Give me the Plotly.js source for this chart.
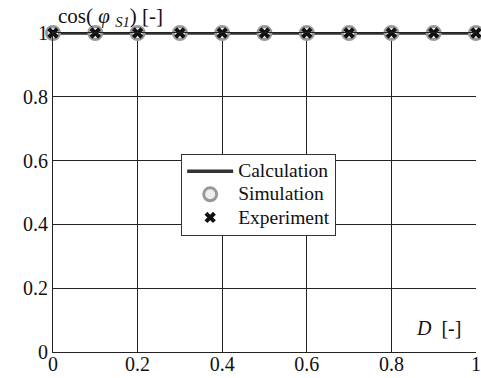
<!DOCTYPE html>
<html>
<head>
<meta charset="utf-8">
<script src="https://cdn.plot.ly/plotly-3.0.1.min.js"></script>
<style>html,body{margin:0;padding:0;background:#fff;}</style>
</head>
<body>
<div id="chart" style="width:481px;height:378px;"></div>
<script>
const calcD = [0, 0.1, 0.2, 0.3, 0.4, 0.5, 0.6, 0.7, 0.8, 0.9, 1.0];
const calcCos = [1, 1, 1, 1, 1, 1, 1, 1, 1, 1, 1];
const simD = [0, 0.1, 0.2, 0.3, 0.4, 0.5, 0.6, 0.7, 0.8, 0.9, 1.0];
const simCos = [1, 1, 1, 1, 1, 1, 1, 1, 1, 1, 1];
const expD = [0, 0.1, 0.2, 0.3, 0.4, 0.5, 0.6, 0.7, 0.8, 0.9, 1.0];
const expCos = [1, 1, 1, 1, 1, 1, 1, 1, 1, 1, 1];
const tickVals = [0, 0.2, 0.4, 0.6, 0.8, 1];
const tickText = ['0', '0.2', '0.4', '0.6', '0.8', '1'];
const seriesNames = ['Calculation', 'Simulation', 'Experiment'];

const fam = 'Liberation Serif, Times New Roman, serif';
const font = {family: fam, size: 20, color: '#111'};
const legFont = {family: fam, size: 15.5, color: '#111'};
const big = s => '<span style="font-size:19.5px">' + s + '</span>';

const traces = [
  {x: calcD, y: calcCos, name: big(seriesNames[0]), mode: 'lines',
   line: {color: '#333', width: 3.5}, cliponaxis: false},
  {x: simD, y: simCos, name: big(seriesNames[1]), mode: 'markers',
   marker: {symbol: 'circle', size: 13, color: '#eee', line: {color: '#999', width: 3}}, cliponaxis: false},
  {x: expD, y: expCos, name: big(seriesNames[2]), mode: 'markers',
   marker: {symbol: 'x', size: 10, color: '#111', line: {width: 0}}, cliponaxis: false}
];

const layout = {
  width: 481, height: 378,
  margin: {l: 53, r: 5, t: 33, b: 26},
  paper_bgcolor: '#fff', plot_bgcolor: '#fff',
  font: font,
  showlegend: true,
  legend: {x: 0.303, y: 0.622, xanchor: 'left', yanchor: 'top',
    bgcolor: '#fff', bordercolor: '#333', borderwidth: 1,
    font: legFont, tracegroupgap: 0, itemwidth: 46},
  xaxis: {range: [0, 1], tickvals: tickVals, ticktext: tickText,
    showgrid: true, gridcolor: '#222', gridwidth: 1,
    showline: true, linecolor: '#222', linewidth: 1, mirror: true,
    zeroline: false, ticks: '', ticklen: 0, tickfont: font, fixedrange: true,
    ticklabelstandoff: -6},
  yaxis: {range: [0, 1], tickvals: tickVals, ticktext: tickText,
    showgrid: true, gridcolor: '#222', gridwidth: 1,
    showline: true, linecolor: '#222', linewidth: 1,
    zeroline: false, ticks: '', ticklen: 0, tickfont: font, fixedrange: true},
  annotations: [
    {xref: 'paper', yref: 'paper', x: 0.008, y: 1.0, xanchor: 'left', yanchor: 'bottom',
     text: 'cos( <i>φ</i> <sub><i>S1</i></sub>) [-]', showarrow: false,
     font: {family: fam, size: 21, color: '#111'}, yshift: 1},
    {xref: 'paper', yref: 'paper', x: 0.969, y: 0.035, xanchor: 'right', yanchor: 'bottom',
     text: '<i>D</i>  [-]', showarrow: false, font: font}
  ]
};

Plotly.newPlot('chart', traces, layout, {displayModeBar: false, staticPlot: true});
</script>
</body>
</html>
